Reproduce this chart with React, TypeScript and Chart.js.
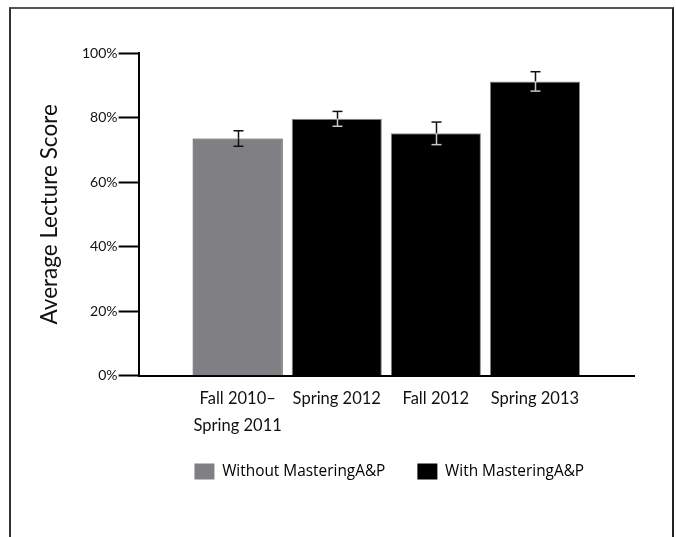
import React, { useEffect, useRef } from 'react';
import { Chart, registerables } from 'chart.js';

Chart.register(...registerables);

// ---- data ----
const categories: string[][] = [['Fall 2010–', 'Spring 2011'], ['Spring 2012'], ['Fall 2012'], ['Spring 2013']];
const scores: number[] = [73.5, 79.6, 75.1, 91.2];
const errors: number[] = [2.4, 2.3, 3.5, 3.0];
const groupOfBar: number[] = [0, 1, 1, 1];
const legendLabels: string[] = ['Without MasteringA&P', 'With MasteringA&P'];
const yTickValues: number[] = [0, 20, 40, 60, 80, 100];
const yTitle = 'Average Lecture Score';

// ---- styles ----
const groupColors = ['#808084', '#000000'];
const groupBorders = ['#333333', '#8a8a8a'];
const errInner = ['#111111', '#c8c8c8'];

const errorBarPlugin = {
  id: 'errorBars',
  afterDatasetsDraw(chart: any) {
    const { ctx } = chart;
    const y = chart.scales.y;
    const meta = chart.getDatasetMeta(0);
    const seg = (x1: number, y1: number, x2: number, y2: number) => {
      ctx.beginPath();
      ctx.moveTo(x1, y1);
      ctx.lineTo(x2, y2);
      ctx.stroke();
    };
    meta.data.forEach((bar: any, i: number) => {
      const x = Math.round(bar.x) + 0.5;
      const top = y.getPixelForValue(scores[i] + errors[i]);
      const bot = y.getPixelForValue(scores[i] - errors[i]);
      const barTop = bar.y;
      ctx.save();
      ctx.lineWidth = 1.5;
      ctx.strokeStyle = '#111111';
      seg(x, top, x, barTop);
      seg(x - 5, top, x + 5, top);
      ctx.strokeStyle = errInner[groupOfBar[i]];
      seg(x, barTop, x, bot);
      seg(x - 5, bot, x + 5, bot);
      ctx.restore();
    });
  },
};

// nudges the legend block so it sits closer under the axis labels
const legendShiftPlugin = {
  id: 'legendShift',
  afterLayout(chart: any) {
    const lg = chart.legend;
    if (!lg) return;
    lg.top -= 17;
    lg.bottom -= 17;
    lg.left += 3;
    lg.right += 3;
  },
};

export default function App() {
  const ref = useRef<HTMLCanvasElement | null>(null);

  useEffect(() => {
    if (!ref.current) return;
    const chart = new Chart(ref.current, {
      type: 'bar',
      data: {
        datasets: [
          {
            data: scores.map((v, i) => ({ x: i, y: v })),
            backgroundColor: groupOfBar.map((g) => groupColors[g]),
            borderColor: groupOfBar.map((g) => groupBorders[g]),
            borderWidth: 1,
            categoryPercentage: 1,
            barPercentage: 0.91,
          },
        ],
      },
      options: {
        animation: false,
        responsive: false,
        events: [],
        layout: { padding: { left: 32, top: 53, right: 42, bottom: 30.5 } },
        plugins: {
          tooltip: { enabled: false },
          legend: {
            display: true,
            position: 'bottom',
            fullSize: false,
            labels: {
              boxWidth: 20,
              boxHeight: 16,
              padding: 32,
              color: '#111111',
              font: { family: '"Open Sans", sans-serif', size: 15.4 },
              generateLabels: () =>
                legendLabels.map((t, i) => ({
                  text: t,
                  fillStyle: groupColors[i],
                  strokeStyle: groupColors[i],
                  lineWidth: 0,
                  hidden: false,
                  datasetIndex: 0,
                })),
            },
          },
        },
        scales: {
          x: {
            type: 'linear',
            offset: false,
            min: -1,
            max: 4,
            afterBuildTicks: (scale: any) => {
              scale.ticks = categories.map((_, i) => ({ value: i }));
            },
            grid: { display: false, drawTicks: false },
            border: { display: true, color: '#000000', width: 2 },
            ticks: {
              autoSkip: false,
              maxRotation: 0,
              padding: 10,
              color: '#111111',
              font: { family: 'Lato, sans-serif', size: 16.5, lineHeight: 1.6 },
              callback: (v: any) => categories[v] ?? '',
            },
          },
          y: {
            min: 0,
            max: 100,
            afterBuildTicks: (scale: any) => {
              scale.ticks = yTickValues.map((v) => ({ value: v }));
            },
            grid: { drawOnChartArea: false, drawTicks: true, tickLength: 20, tickWidth: 2, tickColor: '#000000' },
            border: { display: true, color: '#000000', width: 2 },
            ticks: {
              padding: 1,
              color: '#111111',
              font: { family: 'Lato, sans-serif', size: 14 },
              callback: (v: any) => v + '%',
            },
            title: {
              display: true,
              text: yTitle,
              color: '#111111',
              font: { family: 'Lato, sans-serif', size: 22.5 },
              padding: { top: 4, bottom: 18 },
            },
          },
        },
      },
      plugins: [errorBarPlugin, legendShiftPlugin],
    } as any);
    return () => chart.destroy();
  }, []);

  return (
    <div style={{ position: 'fixed', left: 0, top: 0, width: 676, height: 537, background: '#ffffff' }}>
      <div
        style={{
          position: 'absolute',
          left: 9,
          top: 7,
          width: 665,
          height: 560,
          borderTop: '2px solid #555555',
          borderLeft: '2px solid #333333',
          borderRight: '2px solid #222222',
          boxSizing: 'border-box',
        }}
      />
      <canvas ref={ref} width={676} height={537} style={{ position: 'absolute', left: 0, top: 0, width: 676, height: 537 }} />
    </div>
  );
}
